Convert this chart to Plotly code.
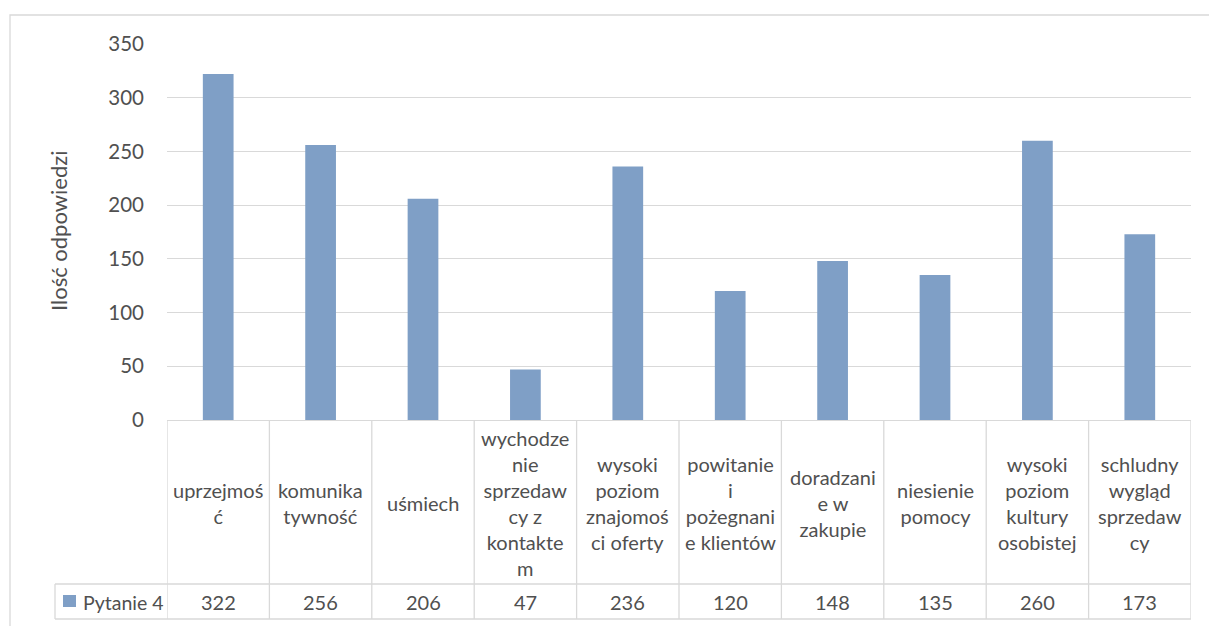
import plotly.graph_objects as go

categories = [
    "uprzejmoś<br>ć",
    "komunika<br>tywność",
    "uśmiech",
    "wychodze<br>nie<br>sprzedaw<br>cy z<br>kontakte<br>m",
    "wysoki<br>poziom<br>znajomoś<br>ci oferty",
    "powitanie<br>i<br>pożegnani<br>e klientów",
    "doradzani<br>e w<br>zakupie",
    "niesienie<br>pomocy",
    "wysoki<br>poziom<br>kultury<br>osobistej",
    "schludny<br>wygląd<br>sprzedaw<br>cy",
]
values = [322, 256, 206, 47, 236, 120, 148, 135, 260, 173]
series_name = "Pytanie 4"
y_title = "Ilość odpowiedzi"
y_ticks = [0, 50, 100, 150, 200, 250, 300, 350]

FONT = "Lato, Carlito, Calibri, sans-serif"
TXT = "#505050"
GRID = "#D9D9D9"
BAR = "#7F9FC6"
FS = 20

W, H = 1209, 626
L, R, T, B = 167, 18, 44, 206
PH = H - T - B
PW = W - L - R


def py(p):  # pixel y -> paper y
    return (H - B - p) / PH


def px(p):  # pixel x -> paper x
    return (p - L) / PW


n = len(categories)
xs = list(range(n))

fig = go.Figure()
fig.add_trace(go.Bar(x=xs, y=values, marker=dict(color=BAR, line=dict(width=0)),
                     name=series_name, showlegend=False))

row1_bot = py(584)
row2_bot = py(619)
legend_left = px(55)

shapes = []
# outer chart border
shapes.append(dict(type="rect", xref="paper", yref="paper", x0=px(10), x1=px(1260),
                   y0=py(700), y1=py(15), line=dict(color=GRID, width=1.3), layer="below"))
# vertical table lines
for i in range(n + 1):
    shapes.append(dict(type="line", xref="x", yref="paper", x0=i - 0.5, x1=i - 0.5,
                       y0=0, y1=row2_bot, line=dict(color=GRID, width=1.3)))
# legend cell left line
shapes.append(dict(type="line", xref="paper", yref="paper", x0=legend_left, x1=legend_left,
                   y0=row1_bot, y1=row2_bot, line=dict(color=GRID, width=1.3)))
# horizontal table lines
for yy in (row1_bot, row2_bot):
    shapes.append(dict(type="line", xref="paper", yref="paper", x0=legend_left, x1=1,
                       y0=yy, y1=yy, line=dict(color=GRID, width=1.3)))
# legend key
shapes.append(dict(type="rect", xref="paper", yref="paper", x0=px(63), x1=px(76),
                   y0=py(607), y1=py(595), fillcolor=BAR, line=dict(width=0)))

annotations = []
for i, (c, v) in enumerate(zip(categories, values)):
    annotations.append(dict(x=i, y=py(503), xref="x", yref="paper", text=c, showarrow=False,
                            xanchor="center", yanchor="middle", align="center",
                            font=dict(family=FONT, size=FS, color=TXT)))
    annotations.append(dict(x=i, y=py(602), xref="x", yref="paper", text=str(v), showarrow=False,
                            xanchor="center", yanchor="middle",
                            font=dict(family=FONT, size=FS, color=TXT)))
annotations.append(dict(x=px(81), y=py(602), xref="paper", yref="paper", text=series_name,
                        showarrow=False, xanchor="left", yanchor="middle",
                        font=dict(family=FONT, size=FS - 0.5, color=TXT)))
annotations.append(dict(x=px(58), y=py(231), xref="paper", yref="paper", text=y_title,
                        showarrow=False, textangle=-90, xanchor="center", yanchor="middle",
                        font=dict(family=FONT, size=22, color=TXT)))

fig.update_layout(
    width=W, height=H,
    margin=dict(l=L, r=R, t=T, b=B, pad=0),
    paper_bgcolor="white", plot_bgcolor="white",
    bargap=0.7,
    font=dict(family=FONT, size=FS, color=TXT),
    shapes=shapes,
    annotations=annotations,
    xaxis=dict(range=[-0.5, n - 0.5], showticklabels=False, showgrid=False, zeroline=False,
               showline=True, linecolor=GRID, linewidth=1.3, ticks="", fixedrange=True),
    yaxis=dict(range=[0, 350], tickvals=y_ticks, showgrid=True, gridcolor=GRID, gridwidth=1.3,
               zeroline=False, showline=False, ticks="", ticklabelstandoff=22,
               tickfont=dict(family=FONT, size=FS + 0.5, color=TXT), fixedrange=True),
)

fig.write_html("out.html")
